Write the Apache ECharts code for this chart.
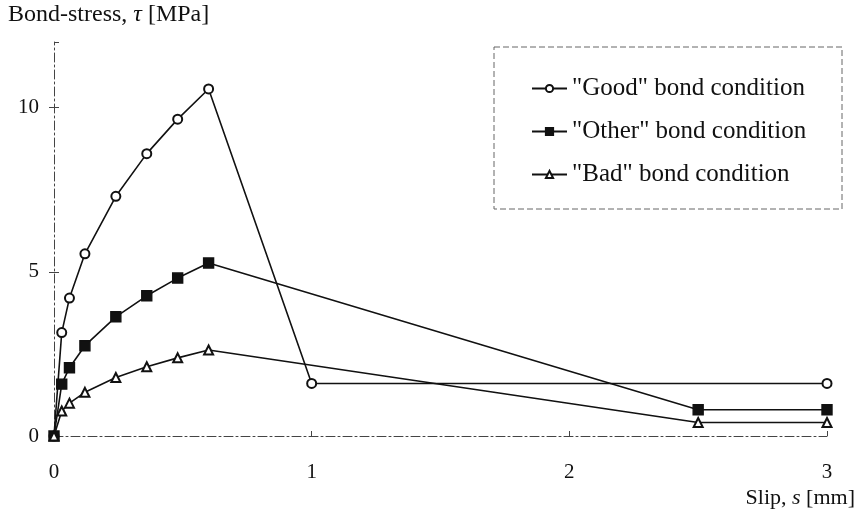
<!DOCTYPE html>
<html><head><meta charset="utf-8">
<script src="https://cdn.jsdelivr.net/npm/echarts@6/dist/echarts.min.js"></script>
<style>html,body{margin:0;padding:0;background:#fff}#c{width:859px;height:521px}</style>
</head><body><div id="c"></div>
<script>
const slipGood = [0, 0.03, 0.06, 0.12, 0.24, 0.36, 0.48, 0.6, 1.0, 3.0];
const tauGood = [0, 3.15, 4.2, 5.55, 7.3, 8.6, 9.65, 10.57, 1.6, 1.6];
const slipOther = [0, 0.03, 0.06, 0.12, 0.24, 0.36, 0.48, 0.6, 2.5, 3.0];
const tauOther = [0, 1.58, 2.08, 2.75, 3.63, 4.27, 4.81, 5.27, 0.8, 0.8];
const slipBad = [0, 0.03, 0.06, 0.12, 0.24, 0.36, 0.48, 0.6, 2.5, 3.0];
const tauBad = [0, 0.76, 1.0, 1.33, 1.78, 2.11, 2.38, 2.62, 0.41, 0.41];
const seriesNames = ['"Good" bond condition', '"Other" bond condition', '"Bad" bond condition'];
const xTicks = [0, 1, 2, 3];
const yTicks = [0, 5, 10];

const font = '"Liberation Serif", "DejaVu Serif", serif';
const pair = (xs, ys) => xs.map((x, i) => [x, ys[i]]);
const dashDot = [9, 3, 2, 3];

const chart = echarts.init(document.getElementById('c'), null, {renderer: 'canvas'});
const mk = (name, xs, ys, symbol, size) => ({
  name, type: 'line', data: pair(xs, ys), symbol, symbolSize: size,
  showAllSymbol: true,
  lineStyle: {color: '#111', width: 1.6},
  itemStyle: {color: '#111', borderColor: '#111', borderWidth: 1.4},
  z: 5
});
chart.setOption({
  animation: false,
  backgroundColor: '#fff',
  grid: {left: 54, right: 32, top: 42, bottom: 85},
  xAxis: {
    type: 'value', min: 0, max: 3, interval: 1,
    axisLine: {lineStyle: {color: '#444', width: 1, type: dashDot}},
    axisTick: {show: true, length: 5, inside: true, lineStyle: {color: '#444'}},
    splitLine: {show: false},
    axisLabel: {color: '#111', fontFamily: font, fontSize: 21, margin: 26,
      formatter: v => xTicks.includes(v) ? String(v) : ''}
  },
  yAxis: [{
    type: 'value', min: 0, max: 12, interval: 5,
    axisLine: {show: true, lineStyle: {color: '#444', width: 1, type: dashDot}},
    axisTick: {show: true, length: 5, lineStyle: {color: '#444'}},
    splitLine: {show: false},
    axisLabel: {color: '#111', fontFamily: font, fontSize: 21, margin: 15,
      showMaxLabel: false,
      formatter: v => yTicks.includes(v) ? String(v) : ''}
  }, {
    type: 'value', min: 0, max: 12, interval: 5, position: 'left',
    axisLine: {show: false}, axisLabel: {show: false}, splitLine: {show: false},
    axisTick: {show: true, inside: true, length: 5, lineStyle: {color: '#444'}}
  }],
  legend: {
    orient: 'vertical', left: 526, top: 71, itemWidth: 35, itemHeight: 9, itemGap: 18,
    textStyle: {fontFamily: font, fontSize: 25, color: '#111'},
    data: seriesNames.map(n => ({name: n}))
  },
  graphic: [
    {type: 'rect', shape: {x: 494, y: 47, width: 348, height: 162},
     style: {fill: null, stroke: '#666', lineWidth: 1, lineDash: [6, 3]}},
    {type: 'text', left: 8, top: 3,
     style: {text: '{n|Bond-stress, }{i|τ}{n| [MPa]}',
       rich: {n: {fontFamily: font, fontSize: 24, fill: '#111'},
              i: {fontFamily: font, fontSize: 24, fontStyle: 'italic', fill: '#111'}}}},
    {type: 'text', right: 4, top: 487,
     style: {text: '{n|Slip, }{i|s}{n| [mm]}',
       rich: {n: {fontFamily: font, fontSize: 22, fill: '#111'},
              i: {fontFamily: font, fontSize: 22, fontStyle: 'italic', fill: '#111'}}}}
  ],
  series: [
    mk(seriesNames[0], slipGood, tauGood, 'emptyCircle', 9),
    mk(seriesNames[1], slipOther, tauOther, 'rect', 10),
    mk(seriesNames[2], slipBad, tauBad, 'emptyTriangle', 9)
  ]
});
</script></body></html>
